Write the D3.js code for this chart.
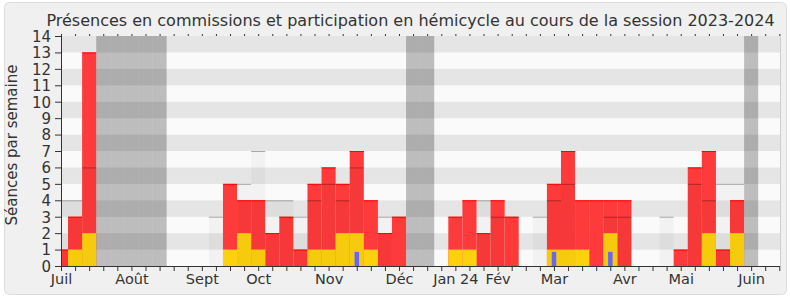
<!DOCTYPE html>
<html>
<head>
<meta charset="utf-8">
<script src="https://cdn.jsdelivr.net/npm/d3@7"></script>
<style>
  body { margin: 0; background: #fff; }
  svg { display: block; font-family: "DejaVu Sans", sans-serif; }
</style>
</head>
<body>
<svg id="chart" width="790" height="300"></svg>
<script>
// weekly values, week 0 = first week of July 2023
const participations = [1, 3, 13, 0, 0, 0, 0, 0, 0, 0, 0, 0, 5, 4, 4, 2, 3, 1, 5, 6, 5, 7, 4, 2, 3, 0,
  0, 0, 3, 4, 2, 4, 3, 0, 0, 5, 7, 4, 4, 4, 4, 0, 0, 0, 1, 6, 7, 1, 4, 0, 0, 0];
const commissions = [0, 1, 2, 0, 0, 0, 0, 0, 0, 0, 0, 0, 1, 2, 1, 0, 0, 0, 1, 1, 2, 2, 1, 0, 0, 0,
  0, 0, 1, 1, 0, 0, 0, 0, 0, 1, 1, 1, 0, 2, 0, 0, 0, 0, 0, 0, 2, 0, 2, 0, 0, 0];
const questionWeeks = [21, 35, 39];
const questionValues = [0.86, 0.86, 0.86];
const medians = [4, 4, 6, null, null, null, null, null, null, null, null, 3, null, 5, 7, 4, 4, 3, 4, 5, 4, 6, null, 3, null, null,
  null, null, null, null, 4, 3, null, null, 3, 4, 5, null, null, 3, 3, null, null, 3, null, 5, 4, 5, 5, null, null, null];
const holidayWeeks = [3, 4, 5, 6, 7, 25, 26, 49];
const monthWeeks = [0, 5, 10, 14, 19, 24, 28, 31, 35, 40, 44, 49];
const monthLabels = ['Juil', 'Août', 'Sept', 'Oct', 'Nov', 'Déc', 'Jan 24', 'Fév', 'Mar', 'Avr', 'Mai', 'Juin'];
const yTicks = d3.range(0, 15);

const svg = d3.select('#chart');
const pLeft = 61, pRight = 780, pTop = 36, pBottom = 266;

const x = d3.scaleLinear().domain([0, 51]).range([pLeft, 779.3]);
const y = d3.scaleLinear().domain([0, 14]).range([pBottom, pTop]);
const half = (x(1) - x(0)) / 2;

// panel
svg.append('rect')
  .attr('x', 4.5).attr('y', 2.5).attr('width', 782).attr('height', 292)
  .attr('rx', 5)
  .attr('fill', '#f0f0f0')
  .attr('stroke', '#dcdcdc');

svg.append('text')
  .attr('x', 410.5).attr('y', 26)
  .attr('text-anchor', 'middle')
  .attr('font-size', 16)
  .attr('fill', '#333')
  .text('Présences en commissions et participation en hémicycle au cours de la session 2023-2024');

svg.append('defs').append('clipPath').attr('id', 'plot')
  .append('rect').attr('x', pLeft).attr('y', pTop).attr('width', pRight - pLeft).attr('height', pBottom - pTop);

const plot = svg.append('g').attr('clip-path', 'url(#plot)');

// stripes
plot.selectAll('rect.band')
  .data(d3.range(14))
  .enter()
    .append('rect')
    .attr('class', 'band')
    .attr('x', pLeft)
    .attr('width', pRight - pLeft)
    .attr('y', d => y(d + 1))
    .attr('height', d => y(d) - y(d + 1))
    .attr('fill', d => d % 2 ? '#e5e5e5' : '#fafafa');

const weeks = d3.range(participations.length);

// hemicycle participations
plot.selectAll('rect.part')
  .data(weeks.filter(i => participations[i] > 0))
  .enter()
    .append('rect')
    .attr('class', 'part')
    .attr('x', i => x(i) - half)
    .attr('width', half * 2)
    .attr('y', i => y(participations[i]))
    .attr('height', i => y(0) - y(participations[i]))
    .attr('fill', '#ff3a3a');

plot.selectAll('line.part')
  .data(weeks.filter(i => participations[i] > 0))
  .enter()
    .append('line')
    .attr('class', 'part')
    .attr('x1', i => x(i) - half)
    .attr('x2', i => x(i) + half)
    .attr('y1', i => y(participations[i]) + 0.5)
    .attr('y2', i => y(participations[i]) + 0.5)
    .attr('stroke', '#f00');

// commission presences
plot.selectAll('rect.com')
  .data(weeks.filter(i => commissions[i] > 0))
  .enter()
    .append('rect')
    .attr('class', 'com')
    .attr('x', i => x(i) - half)
    .attr('width', half * 2)
    .attr('y', i => y(commissions[i]))
    .attr('height', i => y(0) - y(commissions[i]))
    .attr('fill', '#fed10e');

// oral questions
plot.selectAll('rect.q')
  .data(questionWeeks)
  .enter()
    .append('rect')
    .attr('class', 'q')
    .attr('x', w => x(w) - 2.2)
    .attr('width', 4.5)
    .attr('y', (w, k) => y(questionValues[k]))
    .attr('height', (w, k) => y(0) - y(questionValues[k]))
    .attr('fill', '#6b6bff');

// median of deputies
const medWeeks = weeks.filter(i => medians[i] !== null);
plot.selectAll('rect.med')
  .data(medWeeks)
  .enter()
    .append('rect')
    .attr('class', 'med')
    .attr('x', i => x(i) - half)
    .attr('width', half * 2)
    .attr('y', i => y(medians[i]))
    .attr('height', i => y(0) - y(medians[i]))
    .attr('fill', 'rgba(0,0,0,0.03)');

plot.selectAll('line.med')
  .data(medWeeks)
  .enter()
    .append('line')
    .attr('class', 'med')
    .attr('x1', i => x(i) - half)
    .attr('x2', i => x(i) + half)
    .attr('y1', i => y(medians[i]) + 0.5)
    .attr('y2', i => y(medians[i]) + 0.5)
    .attr('stroke', 'rgba(0,0,0,0.3)');

// holidays
plot.selectAll('rect.hol')
  .data(holidayWeeks)
  .enter()
    .append('rect')
    .attr('class', 'hol')
    .attr('x', w => x(w) - half)
    .attr('width', half * 2)
    .attr('y', pTop)
    .attr('height', pBottom - pTop)
    .attr('fill', 'rgba(0,0,0,0.245)');

// right edge
svg.append('line')
  .attr('x1', pRight + 0.5).attr('x2', pRight + 0.5)
  .attr('y1', pTop).attr('y2', pBottom)
  .attr('stroke', '#cfcfcf');

// axes
const labelOf = new Map(monthWeeks.map((w, k) => [w, monthLabels[k]]));

const xAxis = svg.append('g')
  .attr('transform', `translate(0,${pBottom})`)
  .call(d3.axisBottom(x)
    .tickValues(weeks)
    .tickSize(5)
    .tickPadding(3)
    .tickFormat(w => labelOf.get(w) || ''));

const topAxis = svg.append('g')
  .attr('transform', `translate(0,${pTop})`)
  .call(d3.axisTop(x).tickValues(weeks).tickSize(2).tickFormat(''));
topAxis.select('.domain').remove();

const yAxis = svg.append('g')
  .attr('transform', `translate(${pLeft},0)`)
  .call(d3.axisLeft(y).tickValues(yTicks).tickSize(6).tickPadding(4));

xAxis.select('.domain').attr('d', `M${pLeft},0.5H${pRight}`);
yAxis.select('.domain').attr('d', `M0.5,${pTop}V${pBottom}`);

[xAxis, yAxis, topAxis].forEach(g => {
  g.selectAll('.domain').attr('stroke', '#333');
  g.selectAll('.tick line').attr('stroke', '#333');
  g.selectAll('text').attr('font-family', '"DejaVu Sans", sans-serif').attr('fill', '#333');
});
xAxis.selectAll('.tick text').attr('font-size', 14.5);
yAxis.selectAll('.tick text').attr('font-size', 15).attr('dy', '0.36em');

svg.append('text')
  .attr('transform', `translate(17,145) rotate(-90)`)
  .attr('text-anchor', 'middle')
  .attr('font-size', 15)
  .attr('fill', '#333')
  .text('Séances par semaine');
</script>
</body>
</html>
